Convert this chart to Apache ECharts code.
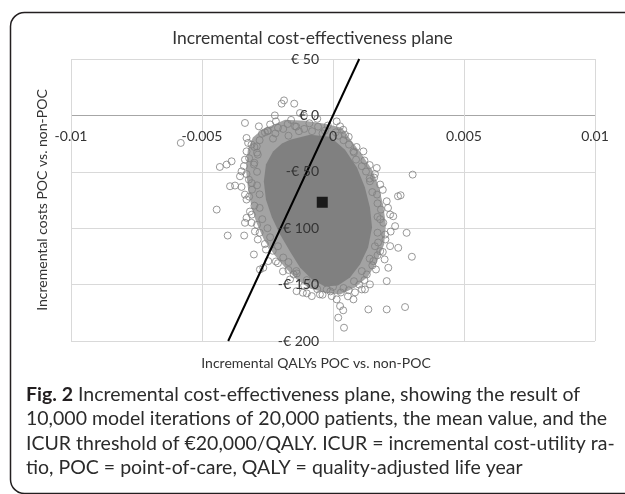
<!DOCTYPE html>
<html><head><meta charset="utf-8">
<script src="https://cdn.jsdelivr.net/npm/echarts@6/dist/echarts.min.js"></script>
<style>html,body{margin:0;padding:0;background:#fff}#c{width:625px;height:494px}</style>
</head><body><div id="c"></div>
<script>
// Individual (outlying / edge) model iterations: [incremental QALY, incremental cost €]
const iterations = [
 [-0.00581,-24.4],[-0.00196,10.4],[-0.00187,13.3],[-0.00148,10.4],[-0.00222,0],[-0.00218,-5.3],
 [-0.00336,-6.7],[-0.00283,-9.7],[-0.00126,2.1],[-0.00111,-0.3],[-0.00173,-7.6],[-0.00145,-9.7],
 [-0.0033,-20],[-0.00324,-24.4],[-0.00311,-25.9],[-0.00291,-27.4],[0.00014,-5.3],[0.00027,-9.7],
 [0.00039,-12.7],[0.00046,-17.1],[-0.0033,-31.9],[-0.00336,-39.2],[-0.00387,-40.7],[-0.00406,-43.6],
 [-0.00432,-45.7],[-0.00349,-49.6],[-0.00355,-54],[-0.00393,-62.8],[-0.00374,-62.2],[-0.00349,-63.4],
 [-0.00336,-70.2],[-0.0033,-74.6],[-0.00444,-83.5],[0.00078,-31.9],[0.00116,-31.9],[0.00167,-46.6],
 [0.00141,-58.4],[0.0018,-61.3],[0.00205,-76.1],[0.0023,-89.4],[0.00192,-95.2],[0.00248,-71.7],
 [-0.00336,-95.2],[-0.00311,-95.2],[-0.0033,-90.8],[-0.00402,-106.5],[-0.00339,-106.5],[-0.00302,-123.3],
 [-0.00279,-136.6],[-0.00266,-135.1],[-0.00247,-129.2],[0.00218,-87.9],[0.00237,-98.2],[0.00218,-115.9],
 [0.00249,-117.4],[0.0018,-120.4],[0.00154,-129.2],[0.00211,-135.1],[0.00205,-146.9],[0.00129,-141],
 [0.0011,-154.3],[0.00122,-154.3],[-0.00139,-155.8],[-0.001,-157.8],[-0.00081,-160.2],[-0.00024,-154.3],
 [-0.00005,-160.2],[0.00014,-163.1],[0.00027,-169],[0.00039,-172.8],[0.00078,-163.1],[0.00135,-172],
 [0.00205,-172],[0.0002,-179.3],[0.00042,-188.2],[0.00304,-52.5],[0.00258,-70.8],[0.00281,-104.1],
 [0.00301,-125.3],[0.00275,-169.9],[-0.00138,-140.1],[-0.00115,-157.2],[0.00197,-127.7],
 [-0.00271,-16.2],[-0.00248,-13.5],[-0.00229,-20.6],[-0.00057,-10],[-0.00031,-13.5],[0.00061,-25.9],
 [0.00088,-39.2],[0.00126,-49.8],[0.00157,-55.1],[0.00168,-70.2],[0.00183,-83.5],[0.00199,-105.6],
 [0.00172,-112.7],[0.00164,-136.6],[0.00141,-149.8],[0.00084,-156.9],[0.00057,-160.4],[-0.0005,-158.7],
 [-0.00164,-145.4],[-0.00191,-138.3],[-0.00218,-129.5],[-0.00256,-118.9],[-0.00287,-110],[-0.00298,-102.9],
 [-0.00317,-85.2],[-0.00309,-65.8],[-0.00321,-56.9],[-0.00302,-43.6],[-0.00287,-34.8],
 [-0.0024,-8],[-0.0021,-11],[-0.0016,-4],[-0.0013,-14],[-0.0009,-7],[-0.0006,-3],[-0.0002,-9],[0.0001,-15],
 [0.0004,-22],[0.0006,-19],[0.0009,-28],[0.0012,-40],[0.0014,-44],[0.0016,-52],[0.0019,-66],[0.0021,-82],
 [0.0017,-90],[0.0022,-103],[0.002,-110],[0.0019,-121],[0.0017,-124],[0.0015,-133],[0.0012,-146],[0.001,-150],
 [0.0006,-155],[0.0003,-157],[0.0000,-152],[-0.0004,-159],[-0.0007,-150],[-0.0011,-151],[-0.0015,-141],
 [-0.0017,-137],[-0.0021,-131],[-0.0023,-120],[-0.0026,-114],[-0.0028,-104],[-0.0029,-97],[-0.0031,-88],
 [-0.003,-80],[-0.0032,-72],[-0.0031,-60],[-0.0033,-52],[-0.0034,-45],[-0.0032,-38],[-0.003,-28],
 [-0.0028,-22],[-0.0026,-15],
 [-0.0025,-14],[-0.0022,-16],[-0.0019,-12],[-0.0017,-18],[-0.0014,-10],[-0.0011,-12],[-0.0008,-14],
 [-0.0004,-16],[0.0002,-18],[-0.0029,-33],[-0.003,-42],[-0.0029,-50],[-0.0029,-62],[-0.0028,-70],
 [-0.0028,-82],[-0.0027,-92],[-0.0025,-100],[-0.0024,-108],[-0.0021,-116],[-0.0019,-126],[0.0008,-33],
 [0.0011,-45],[0.0014,-56],[0.0015,-68],[0.0017,-78],[0.0018,-92],[0.0017,-104],[0.0016,-116],
 [0.0014,-127],[0.0011,-138],[0.0008,-147],[0.0004,-153],[-0.0001,-156],[-0.0006,-154],[-0.001,-146],
 [-0.0014,-138],[-0.0017,-130]
];
// Outline of the area where iterations overlap densely (textured zone)
const denseRingOutline = [
 [-0.00271,-12.7],[-0.00183,-3.8],[-0.00107,-4.7],[-0.00031,-7.3],[0.00034,-10.9],[0.00073,-23.3],
 [0.00111,-34.8],[0.00149,-48.1],[0.00172,-61.3],[0.00191,-79],[0.00202,-96.7],[0.00195,-114.4],
 [0.00168,-129.5],[0.00134,-142.8],[0.00084,-152.5],[0.00027,-158.7],[-0.00031,-156.9],[-0.00088,-153.4],
 [-0.00138,-145.4],[-0.00183,-134.8],[-0.00225,-123.3],[-0.00264,-110],[-0.00294,-94.1],[-0.00313,-79],
 [-0.00325,-64],[-0.00332,-48.1],[-0.00325,-30.4],[-0.00306,-19.7]
];
// Outline of the solid core of the cloud
const denseCoreOutline = [
 [-0.00164,-21.5],[-0.00088,-17.1],[-0.00011,-18.9],[0.00046,-30.4],[0.00092,-46.3],[0.00122,-64],
 [0.00141,-81.7],[0.00149,-99.4],[0.00134,-117.1],[0.00103,-132.1],[0.00065,-143.6],[0.00019,-150.7],
 [-0.00031,-151.6],[-0.0008,-145.4],[-0.00126,-134.8],[-0.00164,-120.6],[-0.00202,-105.6],[-0.00233,-90.5],
 [-0.00256,-74.6],[-0.00264,-58.7],[-0.00256,-43.6],[-0.00229,-32.1],[-0.00195,-25]
];
const meanValue = [[-0.00041,-77]];
const icurThreshold = [[-0.004,-200],[0.001,50]];
const xTicks = [-0.01,-0.005,0,0.005,0.01];
const yTicks = [-200,-150,-100,-50,0,50];
const titleText = 'Incremental cost-effectiveness plane';
const xTitle = 'Incremental QALYs POC vs. non-POC';
const yTitle = 'Incremental costs POC vs. non-POC';
const captionLines = [
 '{b|Fig. 2} Incremental cost-effectiveness plane, showing the result of',
 '10,000 model iterations of 20,000 patients, the mean value, and the',
 'ICUR threshold of €20,000/QALY. ICUR = incremental cost-utility ra-',
 'tio, POC = point-of-care, QALY = quality-adjusted life year'
];

const FONT = 'Lato';
const chart = echarts.init(document.getElementById('c'), null, {renderer:'canvas'});
function polySeries(points, color){
  return {type:'custom', xAxisIndex:0, yAxisIndex:0, z:1, silent:true, clip:true,
    data:[[0,0]],
    renderItem:(params, api)=>({type:'polygon', shape:{points: points.map(p=>api.coord(p))}, style:{fill:color, stroke:null}})
  };
}
const yFmt = v => v === 0 ? '€ 0' : (v > 0 ? '€ ' + v : '-€ ' + (-v));
const zeroIdx = yTicks.indexOf(0);
const ySplitColors = yTicks.map((t,i)=> i===zeroIdx ? '#a6a6a6' : '#d9d9d9');
const xMin = xTicks[0], xMax = xTicks[xTicks.length-1], xInt = xTicks[1]-xTicks[0];
const yMin = yTicks[0], yMax = yTicks[yTicks.length-1], yInt = yTicks[1]-yTicks[0];

chart.setOption({
  animation:false,
  backgroundColor:'#fff',
  title:{text:titleText, left:'center', top:24, textStyle:{fontFamily:FONT, fontSize:17.5, fontWeight:'normal', color:'#333'}},
  grid:{left:71, right:30, top:59, bottom:153, containLabel:false},
  xAxis:[
    {type:'value', min:xMin, max:xMax, interval:xInt, axisLine:{show:false, onZero:false}, axisTick:{show:false}, axisLabel:{show:false},
     splitLine:{show:true, lineStyle:{color:'#d9d9d9', width:1}}},
    {type:'value', min:xMin, max:xMax, interval:xInt, position:'bottom', z:5, offset:0,
     axisLine:{show:false, onZero:false}, axisTick:{show:false}, splitLine:{show:false},
     axisLabel:{margin:14, color:'#333', fontFamily:FONT, fontSize:14, formatter:v=>String(+v.toFixed(4))}}
  ],
  yAxis:[
    {type:'value', min:yMin, max:yMax, interval:yInt, axisLine:{show:false, onZero:false}, axisTick:{show:false}, axisLabel:{show:false},
     splitLine:{show:true, lineStyle:{color:ySplitColors, width:1}}},
    {type:'value', min:yMin, max:yMax, interval:yInt, position:'left', z:5, offset:0,
     axisLine:{show:false, onZero:false}, axisTick:{show:false}, splitLine:{show:false},
     axisLabel:{margin:14, color:'#333', fontFamily:FONT, fontSize:14, formatter:yFmt}}
  ],
  series:[
    polySeries(denseRingOutline, '#a3a3a3'),
    polySeries(denseCoreOutline, '#808080'),
    {type:'scatter', xAxisIndex:0, yAxisIndex:0, z:2, silent:true, data:iterations, symbol:'circle', symbolSize:7,
     itemStyle:{color:'rgba(0,0,0,0)', borderColor:'#808080', borderWidth:1}},
    {type:'line', xAxisIndex:0, yAxisIndex:0, z:3, silent:true, data:icurThreshold, showSymbol:false, symbol:'none',
     lineStyle:{color:'#000', width:2}},
    {type:'scatter', xAxisIndex:0, yAxisIndex:0, z:4, silent:true, data:meanValue, symbol:'rect', symbolSize:11,
     itemStyle:{color:'#000'}}
  ],
  graphic:[
    {type:'rect', silent:true, shape:{x:10.5, y:12.5, width:700, height:481, r:14}, style:{fill:'none', stroke:'#231f20', lineWidth:1.5}, z:10},
    {type:'text', silent:true, x:42, y:200, rotation:Math.PI/2, style:{text:yTitle, fontFamily:FONT, fontSize:14, fill:'#333', align:'center', verticalAlign:'middle'}},
    {type:'text', silent:true, x:316, y:363, style:{text:xTitle, fontFamily:FONT, fontSize:14, fill:'#333', align:'center', verticalAlign:'middle'}},
    {type:'text', silent:true, left:26, top:382, style:{text:captionLines.join('\n'), fontFamily:FONT, fontSize:19.5, lineHeight:24.5, fill:'#2b2b2b',
      rich:{b:{fontFamily:FONT, fontSize:19.5, fontWeight:'bold', lineHeight:24.5, fill:'#231f20'}}}}
  ]
});
// Place the label axes where the other axis is zero (Excel-style crossing), using the chart's own scales
const xZeroPx = chart.convertToPixel({xAxisIndex:0}, 0);
const xMinPx = chart.convertToPixel({xAxisIndex:0}, xMin);
const yZeroPx = chart.convertToPixel({yAxisIndex:0}, 0);
const yMinPx = chart.convertToPixel({yAxisIndex:0}, yMin);
chart.setOption({
  xAxis:[{}, {offset: -(yMinPx - yZeroPx)}],
  yAxis:[{}, {offset: -(xZeroPx - xMinPx)}]
});
</script></body></html>
